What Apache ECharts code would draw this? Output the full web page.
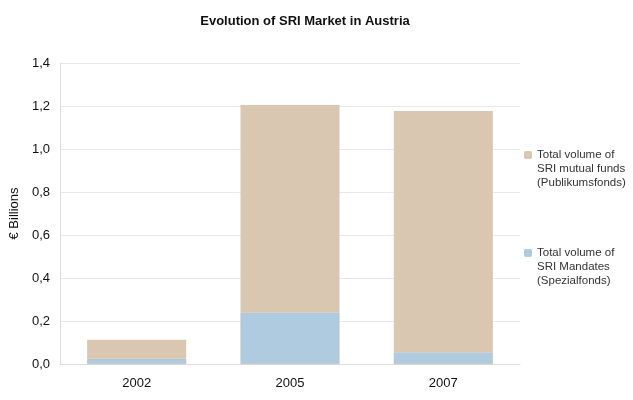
<!DOCTYPE html>
<html>
<head>
<meta charset="utf-8">
<script src="https://cdn.jsdelivr.net/npm/echarts@6/dist/echarts.min.js"></script>
<style>
  html, body { margin: 0; padding: 0; background: #fff; }
  #chart { width: 633px; height: 400px; }
</style>
</head>
<body>
<div id="chart"></div>
<script>
const years = ['2002', '2005', '2007'];
const mandates = [0.025, 0.24, 0.055];
const mutualFunds = [0.088, 0.965, 1.122];
const mandatesName = 'Total volume of\nSRI Mandates\n(Spezialfonds)';
const mutualName = 'Total volume of\nSRI mutual funds\n(Publikumsfonds)';

const chart = echarts.init(document.getElementById('chart'));
chart.setOption({
  animation: false,
  textStyle: { fontFamily: 'Liberation Sans, Arial, sans-serif' },
  title: {
    text: 'Evolution of SRI Market in Austria',
    left: 300, top: 10, textAlign: 'center',
    textStyle: { fontSize: 13, fontWeight: 'bold', color: '#111' }
  },
  legend: {
    orient: 'vertical',
    left: 524, top: 120, padding: 0,
    itemWidth: 8, itemHeight: 8,
    itemGap: 28,
    itemStyle: { borderWidth: 0 },
    data: [mutualName, mandatesName],
    // two blank lines on top so the marker (centred) lines up with the first text line
    formatter: name => '\n\n' + name,
    textStyle: { fontSize: 11.5, color: '#333', lineHeight: 14 }
  },
  grid: { left: 60, right: 113, top: 63, bottom: 36 },
  xAxis: {
    type: 'category',
    data: years,
    axisTick: { show: false },
    axisLine: { lineStyle: { color: '#ddd' } },
    axisLabel: { fontSize: 13, color: '#111', margin: 13 }
  },
  yAxis: {
    type: 'value',
    min: 0, max: 1.4, interval: 0.2,
    name: '€ Billions',
    nameLocation: 'middle',
    nameGap: 36,
    nameTextStyle: { fontSize: 13, color: '#111' },
    axisLine: { show: true, lineStyle: { color: '#ddd' } },
    splitLine: { lineStyle: { color: '#e8e8e8' } },
    axisLabel: {
      fontSize: 13, color: '#111', margin: 10,
      formatter: v => v.toFixed(1).replace('.', ',')
    }
  },
  series: [
    {
      name: mandatesName, type: 'bar', stack: 'total', barWidth: 99,
      data: mandates,
      itemStyle: { color: '#aecbe0', borderColor: '#c0b8b4', borderWidth: 0.5 }
    },
    {
      name: mutualName, type: 'bar', stack: 'total', barWidth: 99,
      data: mutualFunds,
      itemStyle: { color: '#d9c7b1' }
    }
  ]
});
</script>
</body>
</html>
